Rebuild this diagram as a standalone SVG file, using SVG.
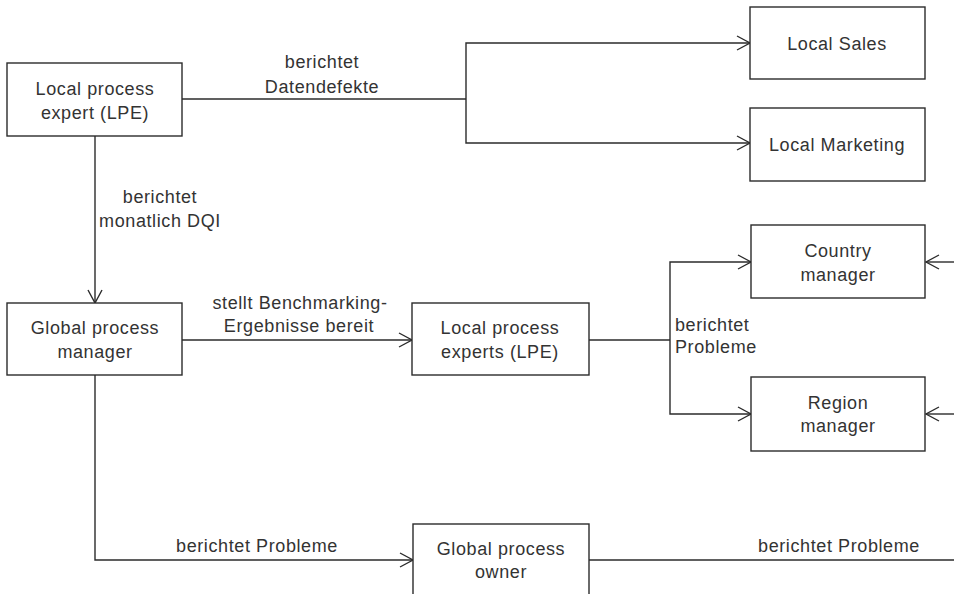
<svg xmlns="http://www.w3.org/2000/svg" width="954" height="594" viewBox="0 0 954 594">
<style>
.box{fill:#fff;stroke:#2b2b2b;stroke-width:1.4}
.c{fill:none;stroke:#2b2b2b;stroke-width:1.4}
text{font-family:"Liberation Sans",Arial,sans-serif;font-size:18px;fill:#333;letter-spacing:0.6px}
.m{text-anchor:middle}
</style>
<defs>
<marker id="ar" markerUnits="userSpaceOnUse" markerWidth="16" markerHeight="16" viewBox="0 0 16 16" refX="14" refY="8" orient="auto">
<path d="M1,1 L14,8 L1,15" fill="none" stroke="#2b2b2b" stroke-width="1.4"/>
</marker>
</defs>
<rect width="954" height="594" fill="#fff"/>
<g id="connectors">
<path class="c" d="M182,99 H466"/>
<path class="c" d="M466,99 V43 H750" marker-end="url(#ar)"/>
<path class="c" d="M466,99 V143 H750" marker-end="url(#ar)"/>
<path class="c" d="M95,136 V303" marker-end="url(#ar)"/>
<path class="c" d="M182,340 H412" marker-end="url(#ar)"/>
<path class="c" d="M589,340 H670"/>
<path class="c" d="M670,340 V262 H751" marker-end="url(#ar)"/>
<path class="c" d="M670,340 V414 H751" marker-end="url(#ar)"/>
<path class="c" d="M954,262 H926" marker-end="url(#ar)"/>
<path class="c" d="M954,414 H926" marker-end="url(#ar)"/>
<path class="c" d="M95,375 V560 H413" marker-end="url(#ar)"/>
<path class="c" d="M589,560 H954"/>
<text class="m" x="322" y="68">berichtet</text>
<text class="m" x="322" y="93">Datendefekte</text>
<text class="m" x="160" y="203">berichtet</text>
<text class="m" x="160" y="227">monatlich DQI</text>
<text class="m" x="300" y="309">stellt Benchmarking-</text>
<text class="m" x="299" y="332">Ergebnisse bereit</text>
<text x="675" y="331">berichtet</text>
<text x="675" y="353">Probleme</text>
<text class="m" x="257" y="552">berichtet Probleme</text>
<text class="m" x="839" y="552">berichtet Probleme</text>
</g>
<g id="lpe">
<rect class="box" x="7" y="63" width="175" height="73"/>
<text class="m" x="95" y="95">Local process</text>
<text class="m" x="95" y="119">expert (LPE)</text>
</g>
<g id="local-sales">
<rect class="box" x="750" y="7" width="175" height="72"/>
<text class="m" x="837" y="50">Local Sales</text>
</g>
<g id="local-marketing">
<rect class="box" x="750" y="108" width="175" height="73"/>
<text class="m" x="837" y="151">Local Marketing</text>
</g>
<g id="gpm">
<rect class="box" x="7" y="303" width="175" height="72"/>
<text class="m" x="95" y="334">Global process</text>
<text class="m" x="95" y="358">manager</text>
</g>
<g id="lpes">
<rect class="box" x="412" y="303" width="177" height="72"/>
<text class="m" x="500" y="334">Local process</text>
<text class="m" x="500" y="358">experts (LPE)</text>
</g>
<g id="country-manager">
<rect class="box" x="751" y="225" width="174" height="73"/>
<text class="m" x="838" y="257">Country</text>
<text class="m" x="838" y="281">manager</text>
</g>
<g id="region-manager">
<rect class="box" x="751" y="377" width="174" height="74"/>
<text class="m" x="838" y="409">Region</text>
<text class="m" x="838" y="432">manager</text>
</g>
<g id="gpo">
<rect class="box" x="413" y="524" width="176" height="74"/>
<text class="m" x="501" y="555">Global process</text>
<text class="m" x="501" y="578">owner</text>
</g>
</svg>
